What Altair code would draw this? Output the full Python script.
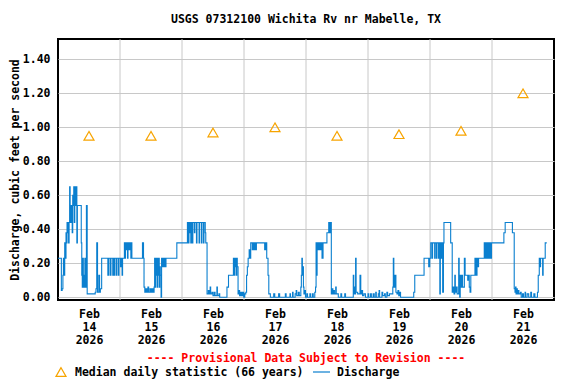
import altair as alt
import pandas as pd

FONT = "DejaVu Sans Mono"
TITLE = "USGS 07312100 Wichita Rv nr Mabelle, TX"
Y_TITLE = "Discharge, cubic feet per second"
PROVISIONAL = "---- Provisional Data Subject to Revision ----"
LEGEND_LABELS = ["Median daily statistic (66 years)", "Discharge"]

START = "2026-02-14"
N_DAYS = 8
y_ticks = [0.0, 0.2, 0.4, 0.6, 0.8, 1.0, 1.2, 1.4]

# median daily statistic, one per day (Feb 14 .. Feb 21), at noon
median_values = [0.95, 0.95, 0.97, 1.00, 0.95, 0.96, 0.98, 1.20]

# discharge step breakpoints: hours after Feb 14 00:00, value (cfs)
q_hours = [
    0.0, 1.3, 1.6, 1.9, 2.1, 2.4, 2.6, 2.9, 3.1, 3.3, 3.5, 3.7, 3.9, 4.1, 4.3, 4.5, 4.7, 4.9, 5.1, 5.3,
    5.5, 5.7, 5.9, 6.1, 6.3, 6.5, 6.7, 6.9, 7.1, 7.3, 7.5, 9.0, 9.2, 9.4, 9.6, 9.8, 10.0, 10.2, 10.4, 10.6,
    11.0, 11.3, 14.4, 14.7, 15.0, 15.3, 15.8, 16.1, 16.4, 16.9, 19.3, 19.6, 20.2, 20.5, 21.2, 21.4, 21.8, 22.0, 22.6, 22.8,
    23.4, 23.6, 24.2, 24.4, 24.8, 25.0,
    25.7, 25.9, 26.1, 26.4, 26.6, 26.9, 27.1, 27.5, 27.9, 28.2, 28.4, 28.6, 32.7, 33.1, 33.3, 33.6, 34.0, 34.4, 34.8, 35.1,
    35.6, 36.0, 36.4, 36.8, 37.2, 37.4, 37.6, 37.8, 38.0, 38.2, 38.4, 38.6, 38.8, 39.0, 39.2, 39.4, 39.6, 39.9, 40.1, 40.4,
    40.6, 41.0, 41.2, 41.6, 41.8, 46.0, 50.1, 50.5, 50.7, 50.9, 51.1, 51.4, 51.6, 52.0, 52.2, 52.8, 53.0, 53.6, 53.8, 54.6,
    54.8, 55.5, 55.7, 56.3, 56.5, 57.0, 57.2, 57.7,
    58.2, 58.5, 58.9, 59.1, 59.6, 60.0, 60.5, 60.8, 61.5, 61.7, 62.3, 62.6, 65.4, 66.0, 67.9, 68.2, 68.4, 68.6, 68.8, 69.0,
    69.2, 69.4, 69.7, 70.0, 70.3, 70.7, 71.1, 71.5, 71.9, 72.3, 72.7, 73.0, 73.3, 73.6, 74.0, 74.4, 74.6,
    75.0, 75.2, 75.4, 75.6, 75.8, 76.0, 76.3, 76.6, 76.8, 80.0, 80.2, 80.4, 80.6, 80.8, 81.3, 81.6, 82.2, 83.5, 83.9, 85.4,
    85.8, 88.0, 88.3, 89.8, 90.0, 90.8, 91.0, 91.8, 92.2, 92.4, 93.0, 93.4, 94.0, 94.2, 94.4, 94.6, 94.8, 95.0, 95.2, 95.6,
    95.8, 96.3, 96.6,
    97.5, 97.8, 98.5, 98.8, 99.4, 99.7, 99.9, 100.1, 100.3, 100.5, 100.7, 100.9, 101.1, 101.3, 101.5, 101.7, 101.9, 102.2, 102.6, 104.1,
    104.8, 105.0, 105.2, 105.4, 105.6, 105.8, 106.1, 106.4, 106.7, 107.0, 107.5, 107.7, 108.5, 109.5, 109.8, 111.0, 111.3, 114.3, 114.5, 114.8,
    115.0, 115.2, 115.4, 116.0, 116.9, 117.2, 117.6, 117.9, 118.4, 119.0, 120.0, 120.3,
    121.0, 121.3, 122.0, 122.4, 123.0, 123.2, 124.0, 124.3, 124.5, 125.4, 125.7, 126.4, 126.7, 127.3, 127.6, 128.3, 128.8, 129.6, 129.8, 130.0,
    130.2, 130.4, 130.6, 130.8, 131.2, 131.6, 131.9, 132.3, 132.6, 137.7, 138.1, 141.7, 143.5, 143.9, 144.3, 144.8, 145.0, 145.8, 146.0, 146.5,
    146.7, 147.3, 147.5, 147.8, 148.0, 148.4, 148.6, 148.9, 149.2, 149.4,
    152.0, 152.6, 153.0, 153.3, 153.6, 153.8, 154.2, 154.5, 155.1, 155.3, 155.5, 155.7, 156.0, 156.3, 156.6, 157.3, 157.6, 158.6, 158.8, 159.2,
    159.5, 159.8, 161.4, 161.6, 161.8, 162.0, 162.2, 162.6, 162.8, 165.0, 165.2, 165.5, 165.7, 166.0, 166.2, 166.5, 166.8, 167.2, 167.5, 167.8,
    172.6, 173.1, 175.9, 176.6, 176.9, 177.1, 177.3, 177.6, 177.8, 178.2, 178.4, 179.0, 179.3, 179.8, 180.2, 180.8, 181.0, 181.6, 182.2, 183.0,
    183.3, 184.2, 184.6, 185.6, 185.9, 186.3, 186.5, 186.8, 187.6, 187.8, 188.6, 189.2,
]
q_values = [
    0.23, 0.04, 0.05, 0.13, 0.23, 0.13, 0.32, 0.23, 0.38, 0.32, 0.44, 0.38, 0.44, 0.32, 0.44, 0.65, 0.44, 0.54, 0.44, 0.54,
    0.38, 0.60, 0.54, 0.65, 0.44, 0.60, 0.65, 0.54, 0.65, 0.32, 0.54, 0.32, 0.13, 0.06, 0.23, 0.06, 0.13, 0.06, 0.23, 0.06,
    0.54, 0.02, 0.03, 0.05, 0.32, 0.03, 0.13, 0.03, 0.05, 0.23, 0.13, 0.23, 0.13, 0.23, 0.13, 0.23, 0.13, 0.23, 0.13, 0.23,
    0.13, 0.23, 0.18, 0.23, 0.13, 0.23,
    0.32, 0.23, 0.32, 0.28, 0.32, 0.23, 0.32, 0.28, 0.32, 0.23, 0.32, 0.23, 0.32, 0.23, 0.06, 0.03, 0.05, 0.03, 0.06, 0.03,
    0.05, 0.03, 0.05, 0.03, 0.06, 0.23, 0.06, 0.23, 0.13, 0.23, 0.06, 0.23, 0.13, 0.23, 0.06, 0.18, 0.13, 0.00, 0.23, 0.18,
    0.23, 0.18, 0.23, 0.18, 0.23, 0.32, 0.44, 0.32, 0.44, 0.38, 0.44, 0.32, 0.44, 0.32, 0.44, 0.38, 0.44, 0.32, 0.44, 0.32,
    0.44, 0.32, 0.44, 0.32, 0.44, 0.38, 0.32, 0.02,
    0.04, 0.02, 0.06, 0.02, 0.03, 0.01, 0.03, 0.01, 0.06, 0.01, 0.02, 0.00, 0.06, 0.13, 0.23, 0.13, 0.23, 0.18, 0.23, 0.13,
    0.23, 0.18, 0.02, 0.04, 0.01, 0.03, 0.01, 0.03, 0.00, 0.02, 0.03, 0.13, 0.18, 0.23, 0.28, 0.23, 0.32,
    0.32, 0.28, 0.32, 0.28, 0.32, 0.28, 0.32, 0.28, 0.32, 0.28, 0.32, 0.28, 0.32, 0.23, 0.13, 0.02, 0.00, 0.02, 0.00, 0.02,
    0.00, 0.02, 0.00, 0.02, 0.00, 0.03, 0.00, 0.02, 0.04, 0.01, 0.03, 0.01, 0.06, 0.13, 0.23, 0.13, 0.18, 0.06, 0.02, 0.04,
    0.00, 0.02, 0.00,
    0.02, 0.00, 0.02, 0.00, 0.03, 0.06, 0.32, 0.13, 0.32, 0.28, 0.32, 0.28, 0.32, 0.28, 0.32, 0.28, 0.32, 0.23, 0.32, 0.38,
    0.44, 0.38, 0.44, 0.38, 0.44, 0.02, 0.05, 0.02, 0.04, 0.02, 0.06, 0.02, 0.00, 0.02, 0.00, 0.02, 0.00, 0.13, 0.02, 0.06,
    0.02, 0.23, 0.03, 0.02, 0.13, 0.02, 0.04, 0.01, 0.02, 0.00, 0.02, 0.00,
    0.02, 0.00, 0.02, 0.00, 0.03, 0.00, 0.02, 0.04, 0.00, 0.03, 0.01, 0.02, 0.00, 0.03, 0.01, 0.02, 0.02, 0.06, 0.23, 0.06,
    0.13, 0.06, 0.13, 0.03, 0.02, 0.04, 0.01, 0.03, 0.00, 0.03, 0.13, 0.23, 0.18, 0.23, 0.32, 0.23, 0.32, 0.23, 0.32, 0.23,
    0.32, 0.23, 0.32, 0.02, 0.32, 0.23, 0.32, 0.03, 0.32, 0.44,
    0.32, 0.03, 0.06, 0.02, 0.13, 0.03, 0.06, 0.02, 0.23, 0.13, 0.00, 0.13, 0.06, 0.13, 0.06, 0.23, 0.13, 0.10, 0.13, 0.06,
    0.03, 0.13, 0.23, 0.13, 0.23, 0.13, 0.23, 0.18, 0.23, 0.32, 0.23, 0.32, 0.23, 0.32, 0.23, 0.32, 0.23, 0.32, 0.23, 0.32,
    0.38, 0.44, 0.38, 0.05, 0.03, 0.06, 0.02, 0.05, 0.02, 0.04, 0.02, 0.03, 0.00, 0.02, 0.00, 0.03, 0.00, 0.02, 0.00, 0.03,
    0.00, 0.02, 0.00, 0.03, 0.13, 0.23, 0.18, 0.23, 0.13, 0.23, 0.32, 0.32,
]

# ---------------------------------------------------------------------------
base = pd.Timestamp(START, tz="UTC")
HOUR_MS = 3600 * 1000
base_ms = int(base.timestamp() * 1000)

q_df = pd.DataFrame({
    "t": [base_ms + int(round(h * HOUR_MS)) for h in q_hours],
    "q": q_values,
})
med_df = pd.DataFrame({
    "t": [base_ms + (24 * i + 12) * HOUR_MS for i in range(N_DAYS)],
    "m": median_values,
})
day_lines = pd.DataFrame({"t": [base_ms + 24 * i * HOUR_MS for i in range(1, N_DAYS)]})
noon_ticks = [base_ms + (24 * i + 12) * HOUR_MS for i in range(N_DAYS)]
domain_x = [base_ms, base_ms + 24 * N_DAYS * HOUR_MS]

xscale = alt.Scale(type="utc", domain=domain_x, nice=False)
yscale = alt.Scale(domain=[-0.016, 1.52], nice=False, zero=False)

BLUE = "#0a7fcf"
ORANGE = "#f7a400"
GRID = "#c8c8c8"

x_axis = alt.Axis(
    values=noon_ticks,
    labelExpr="[utcFormat(datum.value, '%b'), utcFormat(datum.value, '%d'), utcFormat(datum.value, '%Y')]",
    grid=False, ticks=False, domain=False, title=None,
    labelFont=FONT, labelFontSize=11.5, labelFontWeight="bold", labelColor="black",
    labelPadding=8, labelLineHeight=13, labelAngle=0, labelOverlap=False, labelFlush=False,
)
y_axis = alt.Axis(
    values=y_ticks, format=".2f", grid=True, gridColor=GRID, gridWidth=1,
    ticks=False, domain=False, title=Y_TITLE, labelOverlap=False, labelFlush=False,
    labelFont=FONT, labelFontSize=11.5, labelFontWeight="bold", labelColor="black", labelPadding=8,
    titleFont=FONT, titleFontSize=11.5, titleFontWeight="bold", titleColor="black", titlePadding=2,
)

grid_v = alt.Chart(day_lines).mark_rule(color=GRID, strokeWidth=1).encode(
    x=alt.X("t:T", scale=xscale, axis=x_axis)
)

discharge = alt.Chart(q_df).mark_line(
    interpolate="step-after", color=BLUE, strokeWidth=1.1, clip=True
).encode(
    x=alt.X("t:T", scale=xscale, axis=x_axis),
    y=alt.Y("q:Q", scale=yscale, axis=y_axis),
)

median = alt.Chart(med_df).mark_point(
    shape="triangle-up", filled=False, color=ORANGE, size=100, strokeWidth=1.2, opacity=1
).encode(
    x=alt.X("t:T", scale=xscale, axis=x_axis),
    y=alt.Y("m:Q", scale=yscale, axis=y_axis),
)

info = pd.DataFrame({"label": [PROVISIONAL]})
provisional = alt.Chart(info).mark_text(
    font=FONT, fontSize=11.5, fontWeight="bold", color="#ff0000", align="center", baseline="middle"
).encode(x=alt.value(248), y=alt.value(320), text="label:N")

leg = pd.DataFrame({"label": LEGEND_LABELS})
leg_tri = alt.Chart(leg.head(1)).mark_point(
    shape="triangle-up", filled=False, color=ORANGE, size=100, strokeWidth=1.2, opacity=1
).encode(x=alt.value(3), y=alt.value(333))
leg_text1 = alt.Chart(leg.head(1)).mark_text(
    font=FONT, fontSize=11.5, fontWeight="bold", color="black", align="left", baseline="middle"
).encode(x=alt.value(17), y=alt.value(334), text="label:N")
leg_line = alt.Chart(leg.tail(1)).mark_rule(color=BLUE, strokeWidth=1.2).encode(
    x=alt.value(255), x2=alt.value(272), y=alt.value(333)
)
leg_text2 = alt.Chart(leg.tail(1)).mark_text(
    font=FONT, fontSize=11.5, fontWeight="bold", color="black", align="left", baseline="middle"
).encode(x=alt.value(279), y=alt.value(334), text="label:N")

chart = alt.layer(
    grid_v, discharge, median, provisional, leg_tri, leg_text1, leg_line, leg_text2
).properties(
    width=496, height=261,
    title=alt.TitleParams(TITLE, font=FONT, fontSize=11.5, fontWeight="bold", color="black",
                          anchor="middle", offset=13),
    autosize=alt.AutoSizeParams(type="none"),
    padding={"left": 50, "top": 31, "right": 14, "bottom": 82},
).configure(
    background="white"
).configure_view(
    stroke="#000000", strokeWidth=2, strokeOpacity=1
)

chart.save("out.html", embed_options={"renderer": "svg", "actions": False})
